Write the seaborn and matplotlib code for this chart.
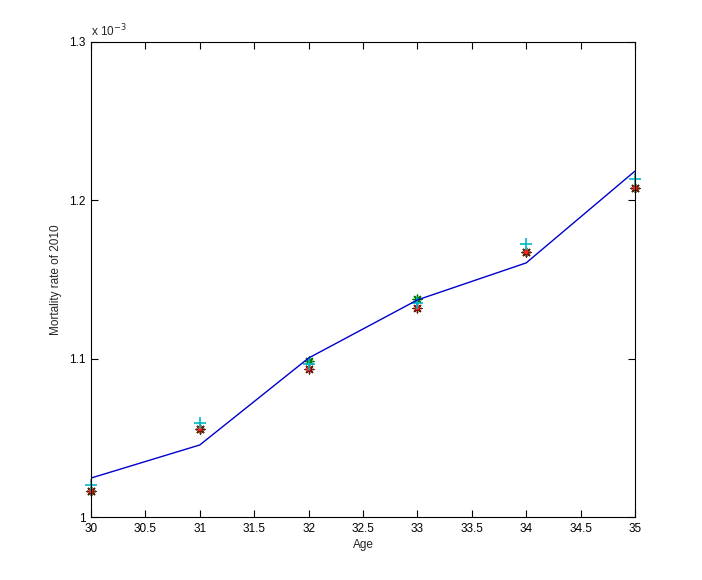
import numpy as np
import pandas as pd
import matplotlib
matplotlib.use('Agg')
import matplotlib.pyplot as plt
import seaborn as sns

# values in units of 1e-3
age = [30, 31, 32, 33, 34, 35]
fitted = [1.0246, 1.0455, 1.1004, 1.1371, 1.1605, 1.2185]
obs_plus = [1.0202, 1.0594, 1.0967, 1.1352, 1.1725, 1.2135]
obs_green = [1.0164, 1.0556, 1.0985, 1.1377, 1.1674, 1.2078]
obs_star = [1.0164, 1.0556, 1.0935, 1.1320, 1.1674, 1.2078]

yticks = [1.0, 1.1, 1.2, 1.3]
ytick_labels = ['1', '1.1', '1.2', '1.3']
xticks = np.arange(30, 35.01, 0.5)
xtick_labels = ['30', '30.5', '31', '31.5', '32', '32.5', '33', '33.5', '34', '34.5', '35']

df = pd.DataFrame({'age': age, 'fitted': fitted, 'plus': obs_plus,
                   'green': obs_green, 'star': obs_star})

sns.set_style('ticks')
plt.rcParams['font.family'] = ['Liberation Sans', 'DejaVu Sans']

fig = plt.figure(figsize=(7.02, 5.8), dpi=100)
ax = fig.add_axes([0.1296, 0.1086, 0.775, 0.819])

asterisk = (8, 2, 0)
sns.lineplot(data=df, x='age', y='fitted', color='#0000cc', linewidth=1, ax=ax)
sns.scatterplot(data=df, x='age', y='green', marker=asterisk, s=40,
                edgecolor='#007a00', facecolor='#007a00', linewidth=1, ax=ax,
                clip_on=False)
sns.scatterplot(data=df, x='age', y='star', marker=asterisk, s=40,
                edgecolor='#6b1a0a', facecolor='#6b1a0a', linewidth=1, ax=ax,
                clip_on=False)
sns.scatterplot(data=df, x='age', y='star', marker='o', color='#ff2020', s=10,
                edgecolor='none', ax=ax, clip_on=False)
sns.scatterplot(data=df, x='age', y='plus', marker='+', color='#00b7c7', s=70,
                linewidth=1.2, ax=ax, clip_on=False)

ax.set_xlim(30, 35)
ax.set_ylim(1.0, 1.3)
ax.set_xticks(xticks)
ax.set_xticklabels(xtick_labels)
ax.set_yticks(yticks)
ax.set_yticklabels(ytick_labels)
ax.tick_params(direction='in', top=True, right=True, length=5, width=0.8,
               labelsize=8.5, colors='black', pad=4)
for s in ax.spines.values():
    s.set_visible(True)
    s.set_color('black')
    s.set_linewidth(0.8)

ax.set_xlabel('Age', fontsize=8.5, labelpad=3)
ax.set_ylabel('Mortality rate of 2010', fontsize=8.5, labelpad=5)
ax.text(0.0, 1.005, r'x 10$^{-3}$', transform=ax.transAxes, fontsize=8.5,
        ha='left', va='bottom')

fig.savefig('out.png', dpi=100)
